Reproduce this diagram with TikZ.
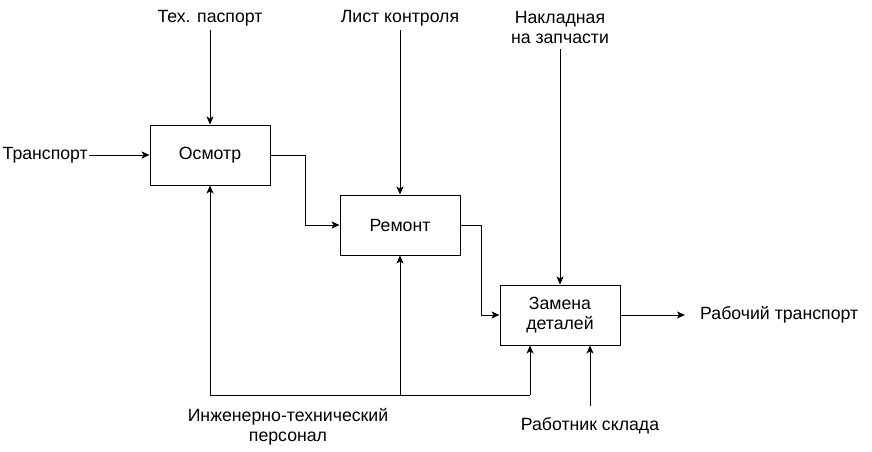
\documentclass[tikz,border=0pt]{standalone}
\usepackage{fontspec}
\setmainfont{Liberation Sans}
\usetikzlibrary{arrows.meta}
\begin{document}
\begin{tikzpicture}[x=1pt,y=-1pt,
  every node/.style={font=\fontsize{17.7}{20.5}\selectfont, align=center},
  proc/.style={draw, line width=1pt, minimum width=120pt, minimum height=60pt, inner sep=0pt},
  lbl/.style={inner sep=1pt},
  line/.style={line width=1pt},
  arr/.style={line width=1pt, -{Stealth[length=8pt,width=7pt,inset=2pt]}}]
\useasboundingbox (0,0) rectangle (872,452);
\node[proc] (osm) at (210,155) {Осмотр};
\node[proc] (rem) at (400,225) {Ремонт};
\node[proc] (zam) at (560,315) {Замена\\деталей};
\node[lbl, anchor=east] (tr) at (89,155) {Транспорт};
\node[lbl, anchor=south, inner ysep=4pt] (tp) at (210,30) {Тех. паспорт};
\node[lbl, anchor=south, inner ysep=4pt] (lk) at (400,30) {Лист контроля};
\node[lbl, anchor=south, inner ysep=5pt] (nak) at (560,49) {Накладная\\на запчасти};
\node[lbl, anchor=west, inner xsep=15pt] (out) at (685,315) {Рабочий транспорт};
\node[lbl, anchor=north] (ing) at (288,407) {Инженерно-технический\\персонал};
\node[lbl, anchor=north, inner ysep=11pt] (rs) at (590,406) {Работник склада};
\coordinate (b1) at (210,395);
\coordinate (b2) at (400,395);
\coordinate (b3) at (530,395);
\draw[arr] (tr.east) -- (osm.west);
\draw[arr] (tp.south) -- (osm.north);
\draw[arr] (lk.south) -- (rem.north);
\draw[arr] (nak.south) -- (zam.north);
\draw[arr] (osm.east) -- ++(35,0) |- (rem.west);
\draw[arr] (rem.east) -- ++(21,0) |- (zam.west);
\draw[arr] (zam.east) -- (out.west);
\draw[line] (b1) -- (b3);
\draw[arr] (b1) -- (osm.south);
\draw[arr] (b2) -- (rem.south);
\draw[arr] (b3) -- (b3 |- zam.south);
\draw[arr] (rs.north) -- (rs.north |- zam.south);
\end{tikzpicture}
\end{document}
